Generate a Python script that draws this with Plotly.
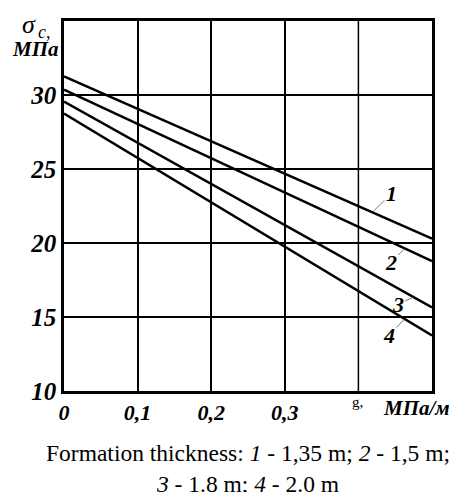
import plotly.graph_objects as go
import numpy as np

# Data
g_values = [0.0, 0.5]
series_names = ["1", "2", "3", "4"]
sigma_1 = [31.25, 20.3]
sigma_2 = [30.36, 18.77]
sigma_3 = [29.56, 15.64]
sigma_4 = [28.75, 13.75]
all_series = [sigma_1, sigma_2, sigma_3, sigma_4]

x_tickvals = [0, 0.1, 0.2, 0.3]
x_ticktext = ["0", "0,1", "0,2", "0,3"]
y_tickvals = [10, 15, 20, 25, 30]
y_ticktext = ["10", "15", "20", "25", "30"]

# label anchor x positions on each line and label pixel offsets
label_x = [0.419, 0.463, 0.475, 0.463]
label_offsets = [(19, -19), (-14, 14), (-16, 7), (-16, 16)]

SERIF = "Liberation Serif, Times New Roman, serif"

fig = go.Figure()
for name, vals in zip(series_names, all_series):
    fig.add_trace(go.Scatter(x=g_values, y=vals, mode="lines",
                             line=dict(color="black", width=2.5),
                             name=name, showlegend=False, hoverinfo="skip"))

for name, vals, lx, (ax, ay) in zip(series_names, all_series, label_x, label_offsets):
    ly = float(np.interp(lx, g_values, vals))
    fig.add_annotation(x=lx, y=ly, xref="x", yref="y",
                       text=f"<b><i>{name}</i></b>", showarrow=True,
                       arrowhead=0, arrowwidth=0.8, arrowcolor="#555",
                       ax=ax, ay=ay, standoff=0,
                       font=dict(family=SERIF, size=22, color="black"))

fig.update_xaxes(range=[0, 0.5], tickvals=x_tickvals, ticktext=x_ticktext,
                 showgrid=True, gridcolor="black", gridwidth=1.5,
                 showline=True, linecolor="black", linewidth=2.5,
                 mirror=True, ticks="", zeroline=False,
                 tickfont=dict(family=SERIF, size=22, color="black", weight="bold", style="italic"))
fig.update_yaxes(range=[10, 35], tickvals=y_tickvals, ticktext=y_ticktext,
                 showgrid=True, gridcolor="black", gridwidth=1.5,
                 showline=True, linecolor="black", linewidth=2.5,
                 mirror=True, ticks="", zeroline=False, ticklabelstandoff=0,
                 tickfont=dict(family=SERIF, size=25, color="black", weight="bold", style="italic"))

# vertical grid at 0.4 (no label)
fig.add_vline(x=0.4, line=dict(color="black", width=1.5), layer="below")

fig.add_annotation(x=0.4, y=0, xref="x", yref="paper", yshift=-1, xshift=-8,
                   xanchor="left", yanchor="top", showarrow=False,
                   text="g, ", font=dict(family=SERIF, size=15, color="black"))
fig.add_annotation(x=0.5, y=0, xref="x", yref="paper", yshift=-3, xshift=20,
                   xanchor="right", yanchor="top", showarrow=False,
                   text="<b><i>МПа/м</i></b>",
                   font=dict(family=SERIF, size=21, color="black"))

# y-axis title: sigma_c, MPa
fig.add_annotation(x=-0.0734, y=1.0324, xref="paper", yref="paper",
                   xanchor="right", yanchor="top", showarrow=False,
                   text="<i>σ</i>", borderpad=0,
                   font=dict(family=SERIF, size=26, color="black"))
fig.add_annotation(x=-0.0734, y=1.0, xref="paper", yref="paper",
                   xanchor="left", yanchor="top", showarrow=False,
                   text="<i>c</i>,", borderpad=0,
                   font=dict(family=SERIF, size=18, color="black"))
fig.add_annotation(x=-0.011, y=0.9595, xref="paper", yref="paper",
                   xanchor="right", yanchor="top", showarrow=False,
                   text="<b><i>МПа</i></b>", borderpad=0,
                   font=dict(family=SERIF, size=21, color="black"))

fig.add_annotation(x=0.5, y=-0.1262, xref="paper", yref="paper",
                   xanchor="center", yanchor="top", showarrow=False, align="center",
                   text="Formation thickness: <i>1</i> - 1,35 m; <i>2</i> - 1,5 m;<br><i>3</i> - 1.8 m; <i>4</i> - 2.0 m",
                   font=dict(family=SERIF, size=23.5, color="black"))

fig.update_layout(width=449, height=492,
                  margin=dict(l=56, r=25, t=13, b=109, autoexpand=False),
                  plot_bgcolor="white", paper_bgcolor="white",
                  showlegend=False)

fig.write_html("out.html")
